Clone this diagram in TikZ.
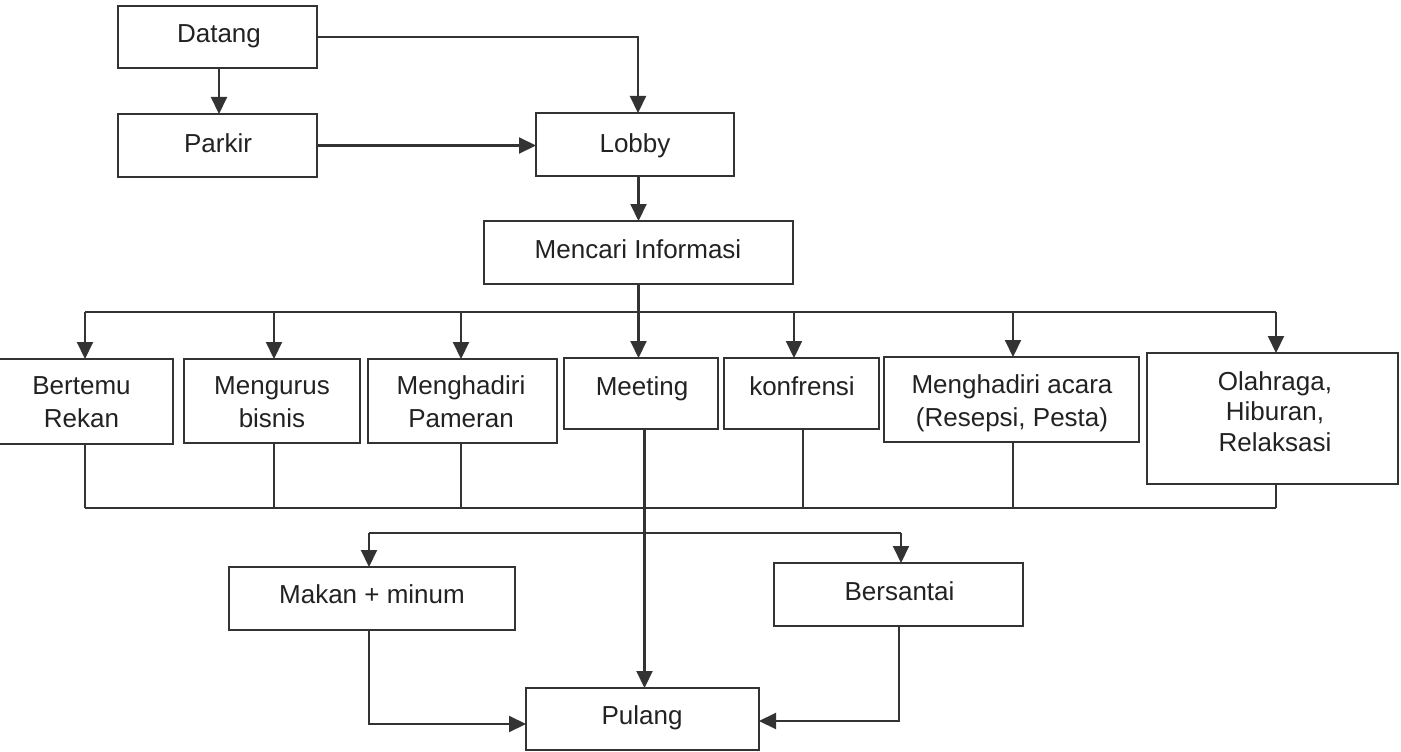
\documentclass[tikz,border=0pt]{standalone}
\usepackage{fontspec}
\setmainfont{Liberation Sans}
\usetikzlibrary{arrows.meta}
\definecolor{ink}{HTML}{333333}
\definecolor{txt}{HTML}{222222}
% centred multi-line label whose baseline is that of its first line
\newcommand\mlines[1]{\begin{tabular}[t]{@{}c@{}}#1\end{tabular}}
% box: name, centre x, centre y, width, height
\newcommand\bx[5]{\node[box, minimum width=#4pt, minimum height=#5pt] (#1) at (#2,#3) {};}
\begin{document}
\begin{tikzpicture}[x=1pt,y=-1pt,
  box/.style={draw=ink, line width=2.1pt, rectangle, inner sep=0pt, outer sep=0pt},
  lbl/.style={text=txt, font=\fontsize{26}{33}\selectfont, inner sep=0pt, anchor=base},
  wire/.style={draw=ink, line width=2.1pt},
  flow/.style={wire, -{Triangle[length=17pt,width=16pt]}},
]
\useasboundingbox (0,0) rectangle (1401,752);
\fill[white] (0,0) rectangle (1401,752);

% ---- boxes ----
\bx{datang}{217.5}{37}{199}{62}
\bx{parkir}{217.5}{145.5}{199}{63}
\bx{lobby}{635}{144.5}{198}{63}
\bx{info}{638.5}{252.5}{309}{63}
\bx{rekan}{81.5}{401.5}{183}{85}
\bx{bisnis}{272}{401}{176}{84}
\bx{pameran}{462.5}{401}{189}{84}
\bx{meet}{641}{393.5}{154}{71}
\bx{konf}{801.5}{393.5}{155}{71}
\bx{acara}{1011.5}{399.5}{255}{85}
\bx{olah}{1272.5}{418.5}{251}{131}
\bx{makan}{372}{598.5}{286}{63}
\bx{santai}{898.5}{594.5}{249}{63}
\bx{pulang}{642.5}{719}{233}{62}

% ---- labels ----
\node[lbl] (t-datang) at (219,43) {Datang};
\node[lbl] (t-parkir) at (218,152) {Parkir};
\node[lbl] (t-lobby) at (635,152) {Lobby};
\node[lbl] (t-info) at (638,258) {Mencari Informasi};
\node[lbl] (t-rekan) at (81.5,394) {\mlines{Bertemu\\Rekan}};
\node[lbl] (t-bisnis) at (272,394) {\mlines{Mengurus\\bisnis}};
\node[lbl] (t-pameran) at (461,394) {\mlines{Menghadiri\\Pameran}};
\node[lbl] (t-meet) at (642,395) {Meeting};
\node[lbl] (t-konf) at (802,395) {konfrensi};
\node[lbl] (t-acara) at (1012,393) {\mlines{Menghadiri acara\\(Resepsi, Pesta)}};
\node[lbl, font=\fontsize{26}{30.5}\selectfont] (t-olah) at (1275,390) {\mlines{Olahraga,\\Hiburan,\\Relaksasi}};
\node[lbl] (t-makan) at (372,603) {Makan + minum};
\node[lbl] (t-santai) at (899.5,600) {Bersantai};
\node[lbl] (t-pulang) at (642,724) {Pulang};

% ---- arrival ----
\draw[flow] (datang.east) -| ([xshift=3pt]lobby.north);
\draw[flow] ([xshift=1.5pt]datang.south) -- ([xshift=1.5pt]parkir.north);
\draw[flow] (parkir.east) -- (parkir.east -| lobby.west);
\draw[flow] (lobby.south -| info.north) -- (info.north);

% ---- distribution to activities ----
\coordinate (busL) at (85,312);
\coordinate (busR) at (1276,312);
\draw[wire] (info.south) -- (info.south |- busL);
\draw[wire] (busL) -- (busR);
\coordinate (rekan-in) at ([xshift=3.5pt]rekan.north);
\coordinate (bisnis-in) at ([xshift=2pt]bisnis.north);
\coordinate (pameran-in) at ([xshift=-1.5pt]pameran.north);
\coordinate (meet-in) at ([xshift=-2.5pt]meet.north);
\coordinate (konf-in) at ([xshift=-7.5pt]konf.north);
\coordinate (acara-in) at ([xshift=1.5pt]acara.north);
\coordinate (olah-in) at ([xshift=3.5pt]olah.north);
\foreach \n in {rekan,bisnis,pameran,meet,konf,acara,olah}
  \draw[flow] (busL -| \n-in) -- (\n-in);

% ---- collection from activities ----
\coordinate (sinkL) at (85,508);
\coordinate (sinkR) at (1276,508);
\draw[wire] (sinkL) -- (sinkR);
\coordinate (rekan-out) at ([xshift=3.5pt]rekan.south);
\coordinate (bisnis-out) at ([xshift=2pt]bisnis.south);
\coordinate (pameran-out) at ([xshift=-1.5pt]pameran.south);
\coordinate (konf-out) at ([xshift=1.5pt]konf.south);
\coordinate (acara-out) at ([xshift=1.5pt]acara.south);
\coordinate (olah-out) at ([xshift=3.5pt]olah.south);
\foreach \n in {rekan,bisnis,pameran,konf,acara,olah}
  \draw[wire] (\n-out) -- (sinkL -| \n-out);

% ---- meeting straight home, with branch to food and rest ----
\coordinate (meet-out) at ([xshift=3.5pt]meet.south);
\draw[flow] (meet-out) -- (meet-out |- pulang.north);
\coordinate (split) at (644,533);
\coordinate (makan-in) at ([xshift=-3pt]makan.north);
\coordinate (santai-in) at ([xshift=2.5pt]santai.north);
\draw[wire] (split -| makan-in) -- (split -| santai-in);
\draw[flow] (split -| makan-in) -- (makan-in);
\draw[flow] (split -| santai-in) -- (santai-in);

% ---- home ----
\draw[flow] ([xshift=-3pt]makan.south) |- ([yshift=-5pt]pulang.west);
\draw[flow] ([xshift=0.5pt]santai.south) |- ([yshift=-2pt]pulang.east);
\end{tikzpicture}
\end{document}
